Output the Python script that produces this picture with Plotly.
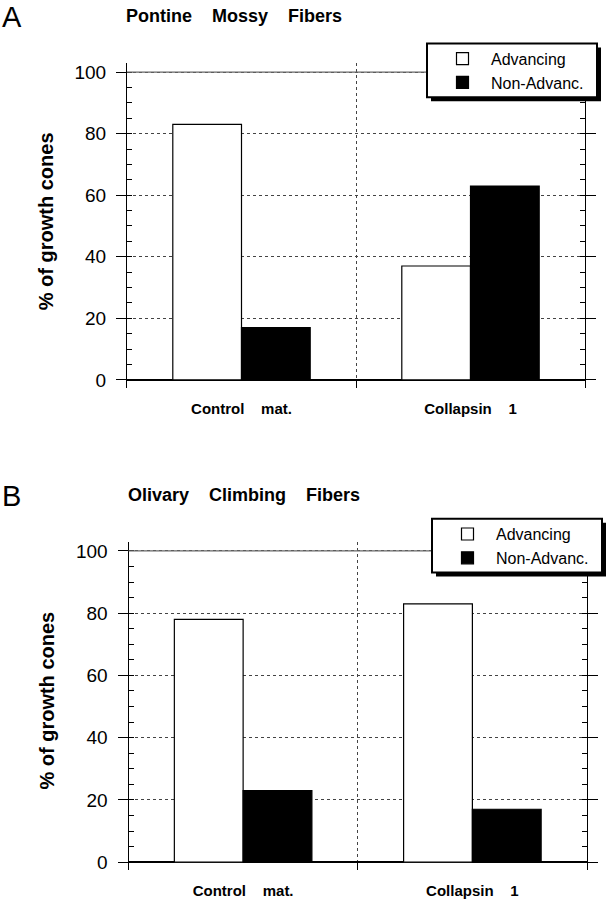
import plotly.graph_objects as go

# ---- data ----
categories = ["Control\u00a0\u00a0\u00a0\u00a0mat.", "Collapsin\u00a0\u00a0\u00a0\u00a01"]
series_names = ["Advancing", "Non-Advanc."]
pontine_advancing = [83, 37]
pontine_non_advancing = [17, 63]
olivary_advancing = [78, 83]
olivary_non_advancing = [23, 17]
y_tick_values = [0, 20, 40, 60, 80, 100]
y_tick_labels = ["0", "20", "40", "60", "80", "100"]
panel_titles = ["Pontine\u00a0\u00a0\u00a0\u00a0Mossy\u00a0\u00a0\u00a0\u00a0Fibers",
                "Olivary\u00a0\u00a0\u00a0\u00a0Climbing\u00a0\u00a0\u00a0\u00a0Fibers"]
panel_letters = ["A", "B"]
y_title = "% of growth cones"

W, H = 615, 899
FONT = "Liberation Sans, Arial, sans-serif"

# panel geometry in pixels: left axis, right axis, y of 100, y of 0, legend shift
panels = [
    dict(xl=127, xr=585, y100=71.5, y0=381, ldx=0, ldy=0,
         adv=pontine_advancing, non=pontine_non_advancing),
    dict(xl=128.5, xr=587, y100=553, y0=866, ldx=5, ldy=478,
         adv=olivary_advancing, non=olivary_non_advancing),
]

Y_LO, Y_HI = -2.6, 102.9

fig = go.Figure()
shapes = []
annotations = []
layout = {}

for i, p in enumerate(panels):
    n = "" if i == 0 else str(i + 1)
    xa, ya = "x" + n, "y" + n
    legend_name = "legend" + n
    ppu = (p["y0"] - p["y100"]) / 100.0
    top = p["y100"] - (Y_HI - 100) * ppu
    bot = p["y0"] - Y_LO * ppu
    dy = p["y100"] - 71.5
    dx = p["xl"] - 127
    ldx, ldy = p["ldx"], p["ldy"]

    fig.add_trace(go.Bar(
        x=categories, y=p["adv"], name=series_names[0], xaxis=xa, yaxis=ya,
        marker=dict(color="white", line=dict(color="black", width=1.2)),
        legend=legend_name, hoverinfo="skip"))
    fig.add_trace(go.Bar(
        x=categories, y=p["non"], name=series_names[1], xaxis=xa, yaxis=ya,
        marker=dict(color="black", line=dict(color="black", width=1.2)),
        legend=legend_name, hoverinfo="skip"))

    layout["xaxis" + n] = dict(
        domain=[p["xl"] / W, p["xr"] / W], anchor=ya, type="category",
        range=[-0.5, 1.5], tickson="boundaries", ticks="inside", ticklen=8,
        tickcolor="black", tickwidth=1, showline=False,
        showgrid=True, gridcolor="#444", gridwidth=1, griddash="3px,3px",
        tickfont=dict(family=FONT, size=15, color="black", weight="bold"),
        ticklabelstandoff=10, fixedrange=True)
    layout["yaxis" + n] = dict(
        domain=[1 - bot / H, 1 - top / H], anchor=xa, range=[Y_LO, Y_HI],
        tickmode="array", tickvals=y_tick_values, ticktext=y_tick_labels,
        ticks="outside", ticklen=10, tickcolor="black", tickwidth=1,
        showline=True, linecolor="black", linewidth=1, mirror="ticks",
        showgrid=True, gridcolor="#444", gridwidth=1, griddash="3px,3px",
        zeroline=True, zerolinecolor="black", zerolinewidth=1.5,
        minor=dict(dtick=5, tick0=0, ticks="inside", ticklen=5,
                   tickcolor="black", tickwidth=1, showgrid=False),
        tickfont=dict(family=FONT, size=19, color="black"),
        ticklabelstandoff=6, fixedrange=True)

    # solid line at 100
    shapes.append(dict(type="line", xref=xa + " domain", yref=ya,
                       x0=0, x1=1, y0=100, y1=100,
                       line=dict(color="#666", width=1.3), layer="above"))
    # legend box with drop shadow
    bx0, bx1 = 427 + ldx, 597 + ldx
    by0, by1 = 42.7 + ldy, 96.7 + ldy
    shapes.append(dict(type="rect", xref="paper", yref="paper",
                       x0=(bx0 + 4) / W, x1=(bx1 + 4) / W,
                       y0=1 - (by1 + 4) / H, y1=1 - (by0 + 4) / H,
                       fillcolor="black", line=dict(width=0), layer="above"))
    shapes.append(dict(type="rect", xref="paper", yref="paper",
                       x0=bx0 / W, x1=bx1 / W, y0=1 - by1 / H, y1=1 - by0 / H,
                       fillcolor="white", line=dict(color="black", width=2),
                       layer="above"))

    layout[legend_name] = dict(
        x=(434 + ldx) / W, y=1 - (41 + ldy) / H, xanchor="left", yanchor="top",
        bgcolor="rgba(0,0,0,0)", borderwidth=0, itemwidth=47,
        font=dict(family=FONT, size=16, color="black"),
        tracegroupgap=0, itemclick=False, itemdoubleclick=False)

    # panel letter and title
    annotations.append(dict(text=panel_letters[i], xref="paper", yref="paper",
                            x=0 / W, y=1 - (16 + dy) / H, xanchor="left",
                            yanchor="middle", showarrow=False,
                            font=dict(family=FONT, size=29, color="black")))
    annotations.append(dict(text=panel_titles[i], xref="paper", yref="paper",
                            x=(124 + dx) / W, y=1 - (15 + dy) / H, xanchor="left",
                            yanchor="middle", showarrow=False,
                            font=dict(family=FONT, size=18, color="black",
                                      weight="bold")))
    annotations.append(dict(text=y_title, xref="paper", yref="paper",
                            x=(45.5 + dx) / W, y=1 - (222 + dy) / H,
                            xanchor="center", yanchor="middle", textangle=-90,
                            showarrow=False,
                            font=dict(family=FONT, size=20, color="black",
                                      weight="bold")))

fig.update_layout(
    width=W, height=H, margin=dict(l=0, r=0, t=0, b=0),
    paper_bgcolor="white", plot_bgcolor="white",
    barmode="group", bargap=0.4, bargroupgap=0,
    shapes=shapes, annotations=annotations, showlegend=True,
    **layout)

fig.write_html("out.html", config={"displayModeBar": False},
               post_script="document.body.style.margin='0';"
                           "document.documentElement.style.overflow='hidden';")
